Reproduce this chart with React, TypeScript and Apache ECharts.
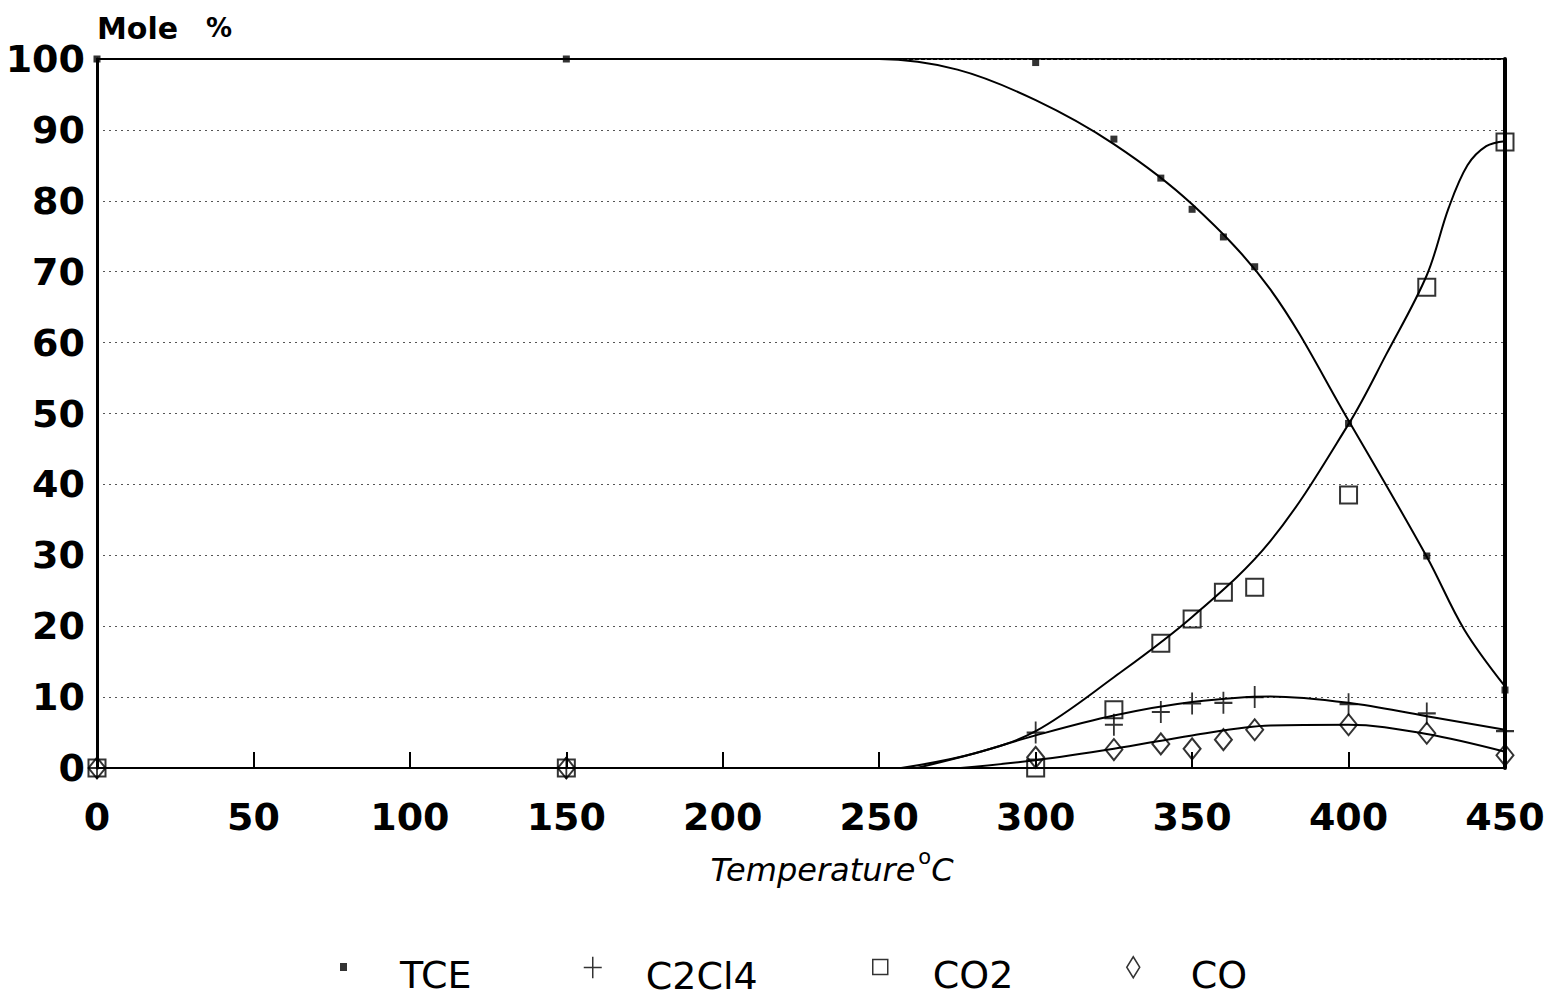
import React, { useEffect, useRef } from "react";
import * as echarts from "echarts";

// ---- measured data points ----
const tcePoints: [number, number][] = [
  [0, 100], [150, 100], [300, 99.5], [325, 88.7], [340, 83.2], [350, 78.8],
  [360, 74.9], [370, 70.7], [400, 48.6], [425, 29.9], [450, 11],
];
const c2cl4Points: [number, number][] = [
  [0, 0], [150, 0], [300, 5], [325, 6.1], [340, 7.9], [350, 9.1],
  [360, 9.2], [370, 10], [400, 9], [425, 7.7], [450, 5.2],
];
const co2Points: [number, number][] = [
  [0, 0], [150, 0], [300, 0], [325, 8.2], [340, 17.6], [350, 21],
  [360, 24.8], [370, 25.5], [400, 38.5], [425, 67.8], [450, 88.3],
];
const coPoints: [number, number][] = [
  [0, 0], [150, 0], [300, 1.5], [325, 2.6], [340, 3.4], [350, 2.7],
  [360, 4], [370, 5.4], [400, 6.1], [425, 4.9], [450, 1.8],
];

// ---- fitted curves ----
const tceCurve: [number, number][] = [
  [0, 100], [200, 100], [250, 100], [275, 98.5],
  [300, 94.2], [325, 88], [350, 79.5],
  [375, 67.5], [400, 49], [425, 29.8], [437, 19.5], [450, 11.5],
];
const co2Curve: [number, number][] = [
  [257, 0], [280, 2], [300, 5.2], [325, 12.8],
  [350, 21.3], [375, 32], [400, 48.5], [412, 58.3],
  [425, 69.5], [432, 79], [438, 85], [444, 87.7], [450, 88.4],
];
const c2cl4Curve: [number, number][] = [
  [262, 0], [280, 2], [300, 4.6], [325, 7.4],
  [350, 9.3], [375, 10.1], [400, 9.2], [425, 7.3],
  [450, 5.4], [454, 5.2],
];
const coCurve: [number, number][] = [
  [276, 0], [300, 1.1], [325, 2.7], [350, 4.6],
  [375, 6], [400, 6.1], [425, 4.8], [450, 2.3],
];

const seriesNames = ["TCE", "C2Cl4", "CO2", "CO"];
const xTicks = { min: 0, max: 450, interval: 50 };
const yTicks = { min: 0, max: 100, interval: 10 };

const PLUS = "path://M10,0 L10,24 M0,12 L20,12";
const legendFont = '"DejaVu Sans", sans-serif';

export default function App() {
  const ref = useRef<HTMLDivElement>(null);
  useEffect(() => {
    if (!ref.current) return;
    const chart = echarts.init(ref.current, null, { renderer: "svg" });
    const emptyStyle = { color: "rgba(255,255,255,0)", borderColor: "#000", borderWidth: 2 };
    const curveStyle = { color: "#000", width: 2 };
    const legendBase = (name: string, icon: string, w: number, h: number, left: number, padLeft: number, itemStyle: any) => ({
      data: [{ name, icon }],
      orient: "horizontal",
      left,
      top: 956,
      padding: 0,
      itemWidth: w,
      itemHeight: h,
      itemGap: 0,
      selectedMode: false,
      itemStyle,
      formatter: "{t|{name}}",
      textStyle: {
        fontFamily: legendFont,
        fontSize: 38,
        color: "#000",
        padding: [0, 0, 0, padLeft],
        rich: {
          t: { fontFamily: legendFont, fontSize: 38, color: "#000", lineHeight: 54, verticalAlign: "bottom" },
        },
      },
    });
    chart.setOption({
      animation: false,
      backgroundColor: "#fff",
      grid: {
        left: 97,
        right: 43,
        top: 59,
        bottom: 232,
        show: true,
        borderColor: "#000",
        borderWidth: 2,
        backgroundColor: "transparent",
      },
      legend: [
        legendBase("TCE", "rect", 7, 8, 340, 48, { color: "#000", borderWidth: 0 }),
        legendBase("C2Cl4", PLUS, 18, 22, 583, 39, { color: "rgba(0,0,0,0)", borderColor: "#000", borderWidth: 1.5 }),
        legendBase("CO2", "rect", 15, 15, 872, 40, { color: "#fff", borderColor: "#000", borderWidth: 1.5 }),
        legendBase("CO", "diamond", 13, 21, 1126, 46, { color: "#fff", borderColor: "#000", borderWidth: 1.5 }),
      ],
      xAxis: {
        type: "value",
        ...xTicks,
        name: "{a|Temperature}{b|o}{a|C}",
        nameLocation: "middle",
        nameGap: 78,
        nameTextStyle: {
          padding: [0, 0, 0, 62],
          rich: {
            a: { fontFamily: "DejaVu Sans", fontStyle: "italic", fontSize: 32, color: "#000", lineHeight: 40, verticalAlign: "bottom" },
            b: { fontFamily: "DejaVu Sans", fontSize: 21, color: "#000", lineHeight: 20, verticalAlign: "top", padding: [0, 0, 0, 3] },
          },
        },
        axisLine: { show: true, onZero: false, lineStyle: { color: "#000", width: 2 } },
        axisTick: { show: true, inside: true, length: 16, lineStyle: { color: "#000", width: 2 } },
        splitLine: { show: false },
        axisLabel: {
          margin: 30,
          fontFamily: "DejaVu Sans",
          fontWeight: "bold",
          fontSize: 38,
          color: "#000",
        },
      },
      yAxis: [
        {
          type: "value",
          ...yTicks,
          name: "{a|Mole}{b|%}",
          nameLocation: "end",
          nameGap: 16,
          nameTextStyle: {
            align: "left",
            verticalAlign: "bottom",
            rich: {
              a: { fontFamily: "DejaVu Sans", fontWeight: "bold", fontSize: 30, color: "#000" },
              b: { fontFamily: "DejaVu Sans", fontWeight: "bold", fontSize: 26, color: "#000", padding: [0, 0, 0, 28] },
            },
          },
          axisLine: { show: true, lineStyle: { color: "#000", width: 3 } },
          axisTick: { show: false },
          splitLine: { show: true, lineStyle: { color: "#555", width: 1.2, type: [2, 4] } },
          axisLabel: {
            margin: 12,
            fontFamily: "DejaVu Sans",
            fontWeight: "bold",
            fontSize: 38,
            color: "#000",
          },
        },
        {
          type: "value",
          ...yTicks,
          position: "right",
          axisLine: { show: true, lineStyle: { color: "#000", width: 4 } },
          axisTick: { show: false },
          axisLabel: { show: false },
          splitLine: { show: false },
        },
      ],
      series: [
        { type: "line", name: "TCE fit", data: tceCurve, smooth: 0.35, showSymbol: false, silent: true, lineStyle: curveStyle, z: 2 },
        { type: "line", name: "CO2 fit", data: co2Curve, smooth: 0.35, showSymbol: false, silent: true, lineStyle: curveStyle, z: 2 },
        { type: "line", name: "C2Cl4 fit", data: c2cl4Curve, smooth: 0.35, showSymbol: false, silent: true, lineStyle: curveStyle, z: 2, clip: false },
        { type: "line", name: "CO fit", data: coCurve, smooth: 0.35, showSymbol: false, silent: true, lineStyle: curveStyle, z: 2 },
        { type: "scatter", name: seriesNames[0], data: tcePoints, symbol: "rect", symbolSize: 7, itemStyle: { color: "#000" }, z: 5, clip: false },
        { type: "scatter", name: seriesNames[1], data: c2cl4Points, symbol: PLUS, symbolSize: [18, 22], itemStyle: { color: "rgba(0,0,0,0)", borderColor: "#000", borderWidth: 2 }, z: 5, clip: false },
        { type: "scatter", name: seriesNames[2], data: co2Points, symbol: "rect", symbolSize: 17, itemStyle: emptyStyle, z: 5, clip: false },
        { type: "scatter", name: seriesNames[3], data: coPoints, symbol: "diamond", symbolSize: [17, 21], itemStyle: emptyStyle, z: 5, clip: false },
      ],
    });
    return () => chart.dispose();
  }, []);
  return (
    <div
      ref={ref}
      style={{ position: "absolute", left: 0, top: 0, width: 1548, height: 1000, background: "#fff" }}
    />
  );
}
